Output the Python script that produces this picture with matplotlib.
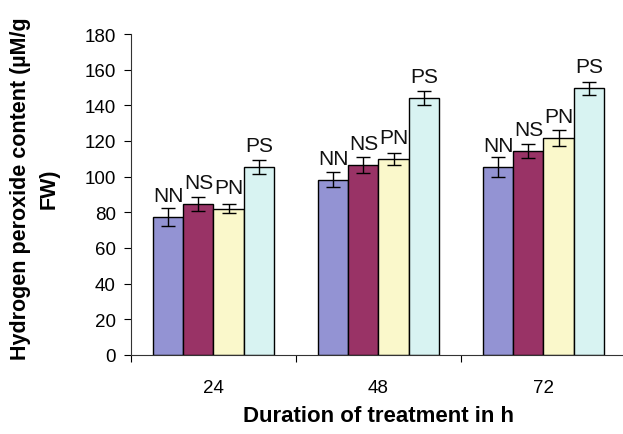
import matplotlib
matplotlib.use("Agg")
import matplotlib.pyplot as plt
import numpy as np

plt.rcParams['font.family'] = ['Liberation Sans', 'DejaVu Sans']

# H2O2 content per treatment, hours after treatment
durations = ["24", "48", "72"]
treatments = ["NN", "NS", "PN", "PS"]
means = {
    "NN": [77.4, 98.2, 105.5],
    "NS": [84.6, 106.5, 114.3],
    "PN": [82.0, 109.9, 121.7],
    "PS": [105.5, 144.2, 149.6],
}
errors = {
    "NN": [5.3, 4.2, 5.8],
    "NS": [3.8, 4.3, 4.1],
    "PN": [2.6, 3.2, 4.6],
    "PS": [3.9, 4.1, 3.7],
}
colours = {"NN": "#9393D3", "NS": "#993366", "PN": "#FAF8CB", "PS": "#D8F3F2"}

fig = plt.figure(figsize=(6.23, 4.35), dpi=100)
ax = fig.add_axes([131 / 623, 79 / 435, 495 / 623, 321 / 435])

x = np.arange(len(durations))
w = 0.183
for i, t in enumerate(treatments):
    pos = x + (i - 1.5) * w
    ax.bar(pos, means[t], w, color=colours[t], edgecolor="black", linewidth=1.0,
           yerr=errors[t], capsize=4.7,
           error_kw=dict(ecolor="black", elinewidth=1.0, capthick=1.0))
    for px, v in zip(pos, means[t]):
        ax.annotate(t, (px, v), xytext=(0, 11.5), textcoords="offset points",
                    ha="center", va="baseline", fontsize=15, color="#111111")

ax.set_xlim(-0.5, 2.5)
ax.set_ylim(0, 180)
ax.set_yticks(np.arange(0, 181, 20))
ax.set_xticks(x)
ax.set_xticklabels(durations)
ax.set_xticks([-0.5, 0.5, 1.5, 2.5], minor=True)
ax.tick_params(axis="x", which="major", length=0, pad=17, labelsize=13.5)
ax.tick_params(axis="x", which="minor", length=5, width=0.8, direction="out")
ax.tick_params(axis="y", length=5, width=0.8, pad=6, labelsize=13.5)

for s in ["top", "right"]:
    ax.spines[s].set_visible(False)
for s in ["left", "bottom"]:
    ax.spines[s].set_linewidth(0.8)
    ax.spines[s].set_color("#333333")

ax.set_xlabel("Duration of treatment in h", fontsize=16, fontweight="bold", labelpad=7)
fig.text(35 / 623, 246 / 435, "Hydrogen peroxide content (\u00b5M/g\nFW)",
         rotation=90, ha="center", va="center", multialignment="center",
         fontsize=15.5, fontweight="bold", linespacing=1.45)

fig.savefig("out.png", dpi=100)
